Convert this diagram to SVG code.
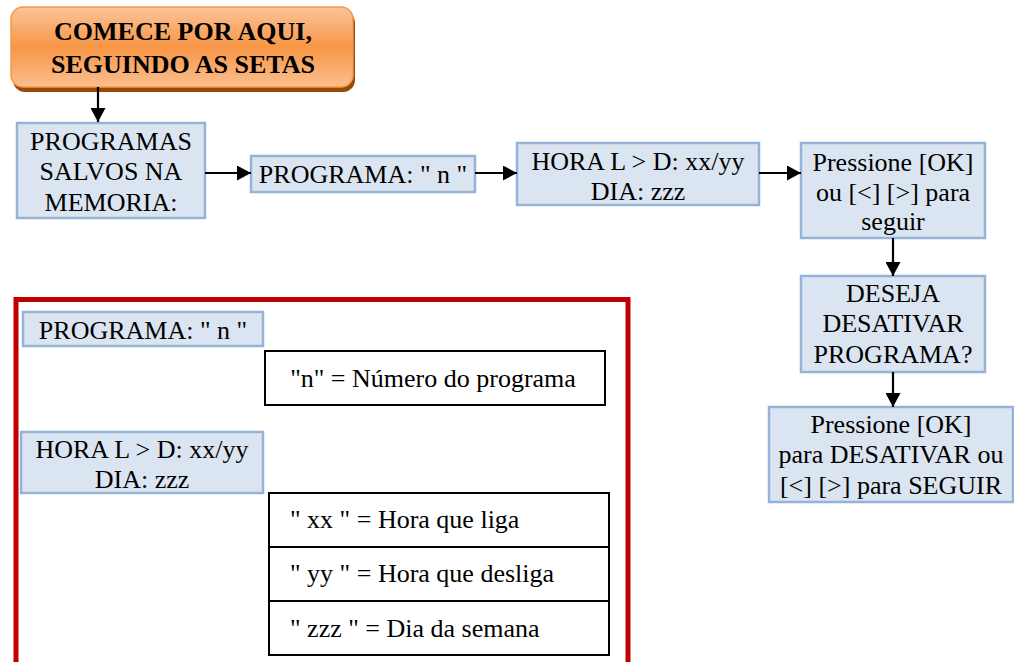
<svg xmlns="http://www.w3.org/2000/svg" width="1014" height="662" viewBox="0 0 1014 662">
<defs>
<linearGradient id="og" x1="0" y1="0" x2="0" y2="1">
<stop offset="0" stop-color="#fbc49a"/>
<stop offset="0.5" stop-color="#f79646"/>
<stop offset="1" stop-color="#fbbf8f"/>
</linearGradient>
<marker id="ah" markerUnits="userSpaceOnUse" markerWidth="15" markerHeight="15" viewBox="0 0 14 15" refX="14" refY="7.5" orient="auto">
<path d="M0,0 L14,7.5 L0,15 Z" fill="#000"/>
</marker>
<style>
text{font-family:'Liberation Serif','Tinos','Times New Roman','DejaVu Serif',serif;font-size:26px;fill:#000}
.c{text-anchor:middle}
.b{font-weight:bold}
.bl{fill:#dbe5f1;stroke:#95b3d7;stroke-width:2.5}
.bk{fill:#fff;stroke:#000;stroke-width:2}
.ar{stroke:#000;stroke-width:2.2;fill:none;marker-end:url(#ah)}
</style>
</defs>
<rect width="1014" height="662" fill="#fff"/>

<g id="start">
<rect x="13" y="11" width="342" height="81" rx="12" fill="#984807"/>
<rect x="11" y="7" width="342" height="80" rx="12" fill="url(#og)" stroke="#f79646" stroke-width="1.5"/>
<text class="c b" x="183" y="40">COMECE POR AQUI,</text>
<text class="c b" x="183" y="73">SEGUINDO AS SETAS</text>
</g>

<g id="salvos">
<rect class="bl" x="17" y="123" width="188" height="95"/>
<text class="c" x="111" y="150">PROGRAMAS</text>
<text class="c" x="111" y="180">SALVOS NA</text>
<text class="c" x="111" y="211">MEMORIA:</text>
</g>

<g id="programa">
<rect class="bl" x="251" y="156" width="224" height="36"/>
<text class="c" x="363" y="183">PROGRAMA: " n "</text>
</g>

<g id="hora">
<rect class="bl" x="517" y="143" width="242" height="62"/>
<text class="c" x="638" y="170">HORA L &gt; D: xx/yy</text>
<text class="c" x="638" y="200">DIA: zzz</text>
</g>

<g id="pressione1">
<rect class="bl" x="801" y="143" width="184" height="95"/>
<text class="c" x="893" y="171">Pressione [OK]</text>
<text class="c" x="893" y="201">ou [&lt;] [&gt;] para</text>
<text class="c" x="893" y="230">seguir</text>
</g>

<g id="deseja">
<rect class="bl" x="801" y="276" width="184" height="96"/>
<text class="c" x="893" y="302">DESEJA</text>
<text class="c" x="893" y="332">DESATIVAR</text>
<text class="c" x="893" y="363">PROGRAMA?</text>
</g>

<g id="pressione2">
<rect class="bl" x="769" y="407" width="244" height="95"/>
<text class="c" x="891" y="433">Pressione [OK]</text>
<text class="c" x="891" y="463">para DESATIVAR ou</text>
<text class="c" x="891" y="494">[&lt;] [&gt;] para SEGUIR</text>
</g>

<g id="connectors">
<line class="ar" x1="98" y1="87" x2="98" y2="122"/>
<line class="ar" x1="205" y1="173" x2="251" y2="173"/>
<line class="ar" x1="475" y1="173" x2="517" y2="173"/>
<line class="ar" x1="759" y1="173" x2="801" y2="173"/>
<line class="ar" x1="893" y1="238" x2="893" y2="276"/>
<line class="ar" x1="893" y1="372" x2="893" y2="407"/>
</g>

<g id="legend">
<rect x="16" y="299.5" width="612" height="420" fill="none" stroke="#c00000" stroke-width="5"/>
<g id="leg-programa">
<rect class="bl" x="23" y="312" width="240" height="34"/>
<text class="c" x="143" y="339">PROGRAMA: " n "</text>
</g>
<g id="leg-n">
<rect class="bk" x="265" y="351" width="340" height="54"/>
<text class="c" x="433" y="387">"n" = Número do programa</text>
</g>
<g id="leg-hora">
<rect class="bl" x="21" y="432" width="242" height="61"/>
<text class="c" x="142" y="458">HORA L &gt; D: xx/yy</text>
<text class="c" x="142" y="488">DIA: zzz</text>
</g>
<g id="leg-table">
<rect class="bk" x="269" y="493" width="340" height="54"/>
<rect class="bk" x="269" y="547" width="340" height="54"/>
<rect class="bk" x="269" y="601" width="340" height="54"/>
<text x="290" y="528">" xx " = Hora que liga</text>
<text x="290" y="582">" yy " = Hora que desliga</text>
<text x="290" y="637">" zzz " = Dia da semana</text>
</g>
</g>
</svg>
